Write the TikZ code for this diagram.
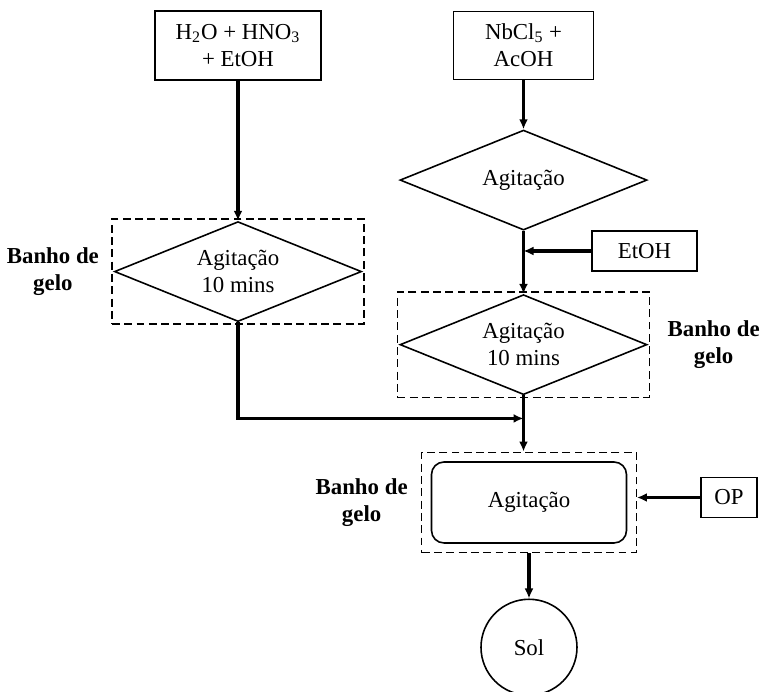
\documentclass[tikz,border=0pt]{standalone}
\usepackage{fontspec}
\setmainfont{Liberation Serif}
\usepackage{tikz}
\usetikzlibrary{shapes.geometric,arrows.meta,positioning,fit,calc}

\begin{document}
\begin{tikzpicture}[
        every node/.style={font=\fontsize{13}{15.5}\selectfont},
        box/.style={rectangle, draw, line width=0.9pt, align=center, inner sep=2pt},
        choice/.style={diamond, draw, line width=0.9pt, align=center, aspect=2.47, inner sep=0pt, minimum width=4.94cm, minimum height=2cm},
        mixbox/.style={rectangle, draw, line width=0.9pt, rounded corners=0.25cm, minimum width=3.9cm, minimum height=1.62cm},
        gelo/.style={draw, dashed, dash pattern=on 4.5pt off 2.5pt, line width=0.8pt, inner sep=1pt},
        gelolabel/.style={align=center, inner sep=0pt, font=\fontsize{13}{15.5}\selectfont\bfseries},
        line/.style={draw, -{Latex[length=2mm,width=1.8mm]}, line width=1.8pt}
    ]
        \useasboundingbox (0,0) rectangle (15.26,-13.84);

        \node [box, minimum width=3.32cm, minimum height=1.38cm] (h2o) at (4.76,-0.91) {H\textsubscript{2}O + HNO\textsubscript{3}\\+ EtOH};
        \node [box, minimum width=2.8cm, minimum height=1.36cm] (nbcl) at (10.47,-0.91) {NbCl\textsubscript{5} +\\AcOH};
        \node [choice, below=0.98cm of nbcl] (agit1) {Agita\c{c}\~ao};
        \node [choice, below=2.8cm of h2o] (agitL) {Agita\c{c}\~ao\\10 mins};
        \node [choice, below=1.26cm of agit1] (agitR) {Agita\c{c}\~ao\\10 mins};
        \node [box, minimum width=2.1cm, minimum height=0.8cm] (etoh) at (12.89,-5.02) {EtOH};
        \node [mixbox] (mix) at (10.58,-10.05) {Agita\c{c}\~ao};
        \node [box, minimum width=1.12cm, minimum height=0.8cm] (op) at (14.58,-9.95) {OP};

        % banho de gelo
        \node [gelo, fit=(agitL)] (frameL) {};
        \node [gelo, fit=(agitR)] (frameR) {};
        \node [gelo, fit=(mix), inner sep=0.18cm] (frameM) {};
        \node [gelolabel, left=0.24cm of frameL] (labL) {Banho de\\gelo};
        \node [gelolabel, right=0.34cm of frameR] (labR) {Banho de\\gelo};
        \node [gelolabel, left=0.26cm of frameM] (labM) {Banho de\\gelo};

        \node [circle, draw, line width=0.9pt, minimum size=1.92cm, below=0.9cm of frameM] (sol) {Sol};

        \coordinate (join) at ($(agitR.south)+(0,-0.46)$);

        \path [line] (h2o) -- (agitL);
        \path [line] (nbcl) -- (agit1);
        \path [line] (agit1) -- (agitR);
        \path [line] (etoh.west) -- (etoh.west -| agit1.south);
        \path [line] (agitL.south) |- (join);
        \path [line] (agitR.south) -- (agitR.south |- frameM.north);
        \path [line] (op.west) -- (op.west -| frameM.east);
        \path [line] (frameM.south -| sol.north) -- (sol.north);
    \end{tikzpicture}
\end{document}
